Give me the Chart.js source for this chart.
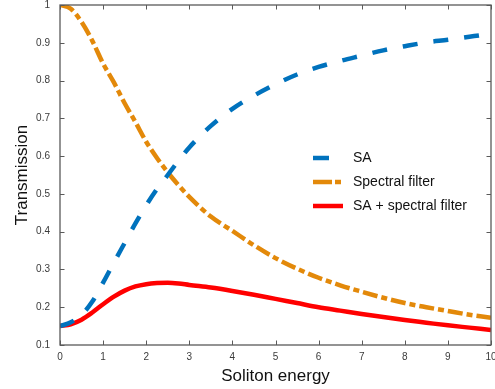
<!DOCTYPE html>
<html>
<head>
<meta charset="utf-8">
<script src="https://cdn.jsdelivr.net/npm/chart.js@4.4.1/dist/chart.umd.min.js"></script>
<style>
html,body{margin:0;padding:0;background:#fff;}
#wrap{width:495px;height:389px;}
</style>
</head>
<body>
<div id="wrap"><canvas id="c" width="495" height="389"></canvas></div>
<script>
const energy = [0,0.25,0.5,0.75,1,1.25,1.5,1.75,2,2.25,2.5,2.75,3,3.5,4,4.5,5,5.5,6,6.5,7,7.5,8,8.5,9,9.5,10];
const saT = [0.150,0.160,0.180,0.215,0.265,0.318,0.370,0.422,0.470,0.513,0.550,0.588,0.623,0.680,0.725,0.760,0.790,0.816,0.836,0.852,0.866,0.880,0.891,0.901,0.908,0.916,0.924];
const filterT = [1.000,0.990,0.955,0.905,0.845,0.795,0.740,0.690,0.638,0.595,0.557,0.523,0.492,0.440,0.402,0.364,0.330,0.302,0.278,0.258,0.241,0.225,0.211,0.200,0.190,0.180,0.172];
const combinedT = [0.150,0.155,0.167,0.186,0.208,0.228,0.244,0.255,0.261,0.264,0.265,0.263,0.259,0.252,0.243,0.233,0.222,0.211,0.200,0.191,0.182,0.174,0.166,0.159,0.152,0.146,0.140];
const seriesNames = ['SA','Spectral filter','SA + spectral filter'];
const xTicks = [0,1,2,3,4,5,6,7,8,9,10];
const yTicks = [0.1,0.2,0.3,0.4,0.5,0.6,0.7,0.8,0.9,1];

const colors = ['#0072BD','#E3890A','#FF0000'];
const dashes = [[15,16],[15,4,6,4],[]];
const legendDashes = [[16,40],[19,3,6,40],[]];
const FONT = "'Liberation Sans', Arial, Helvetica, sans-serif";

const pts = arr => energy.map((x,i)=>({x:x,y:arr[i]}));
const allSeries = [saT, filterT, combinedT];

const boxPlugin = {
  id:'box',
  afterDraw(chart){
    const {ctx, chartArea:a, scales:{x,y}} = chart;
    ctx.save();
    ctx.strokeStyle = '#5a5a5a';
    ctx.lineWidth = 1.3;
    ctx.strokeRect(a.left, a.top, a.right-a.left, a.bottom-a.top);
    ctx.lineWidth = 1;
    ctx.beginPath();
    const tl = 4.5;
    xTicks.forEach(v=>{
      const px = Math.round(x.getPixelForValue(v))+0.5;
      ctx.moveTo(px,a.bottom); ctx.lineTo(px,a.bottom-tl);
      ctx.moveTo(px,a.top); ctx.lineTo(px,a.top+tl);
    });
    yTicks.forEach(v=>{
      const py = Math.round(y.getPixelForValue(v))+0.5;
      ctx.moveTo(a.left,py); ctx.lineTo(a.left+tl,py);
      ctx.moveTo(a.right,py); ctx.lineTo(a.right-tl,py);
    });
    ctx.stroke();
    // legend
    const lx = 313, ly0 = 158, dy = 24;
    ctx.font = '14px ' + FONT;
    ctx.textBaseline = 'middle';
    ctx.textAlign = 'left';
    seriesNames.forEach((name,i)=>{
      const yy = ly0 + i*dy;
      ctx.strokeStyle = colors[i];
      ctx.lineWidth = 4.5;
      ctx.lineCap = 'butt';
      ctx.setLineDash(legendDashes[i]);
      ctx.beginPath();
      ctx.moveTo(lx,yy); ctx.lineTo(lx+30,yy);
      ctx.stroke();
      ctx.setLineDash([]);
      ctx.fillStyle = '#111';
      ctx.fillText(name, 353, yy);
    });
    ctx.restore();
  }
};

new Chart(document.getElementById('c'), {
  type:'line',
  data:{
    datasets: allSeries.map((arr,i)=>({
      label: seriesNames[i],
      data: pts(arr),
      borderColor: colors[i],
      backgroundColor: colors[i],
      borderWidth: 4.5,
      borderDash: dashes[i],
      borderCapStyle: 'butt',
      pointRadius: 0,
      cubicInterpolationMode: 'monotone',
      fill: false
    }))
  },
  options:{
    responsive:false,
    animation:false,
    devicePixelRatio:1,
    layout:{padding:{top:5,right:4,left:0,bottom:0}},
    plugins:{legend:{display:false},tooltip:{enabled:false}},
    scales:{
      x:{
        type:'linear', min:0, max:10,
        afterBuildTicks: s => { s.ticks = xTicks.map(v=>({value:v})); },
        afterFit: s => { s.height = 44; s.paddingLeft = 0; s.paddingRight = 0; },
        grid:{display:false, drawTicks:false},
        border:{display:false},
        ticks:{font:{size:10,family:FONT}, color:'#3a3a3a', padding:6, maxRotation:0,
          callback: v => String(v)},
        title:{display:true, text:'Soliton energy', font:{size:17,family:FONT}, color:'#111', padding:{top:0,bottom:2}}
      },
      y:{
        type:'linear', min:0.1, max:1,
        afterBuildTicks: s => { s.ticks = yTicks.map(v=>({value:v})); },
        afterFit: s => { s.width = 60; s.paddingTop = 0; s.paddingBottom = 0; },
        grid:{display:false, drawTicks:false},
        border:{display:false},
        ticks:{font:{size:10,family:FONT}, color:'#3a3a3a', padding:10,
          callback: v => String(+v.toFixed(1))},
        title:{display:true, text:'Transmission', font:{size:17,family:FONT}, color:'#111', padding:{top:12,bottom:0}}
      }
    }
  },
  plugins:[boxPlugin]
});
</script>
</body>
</html>
